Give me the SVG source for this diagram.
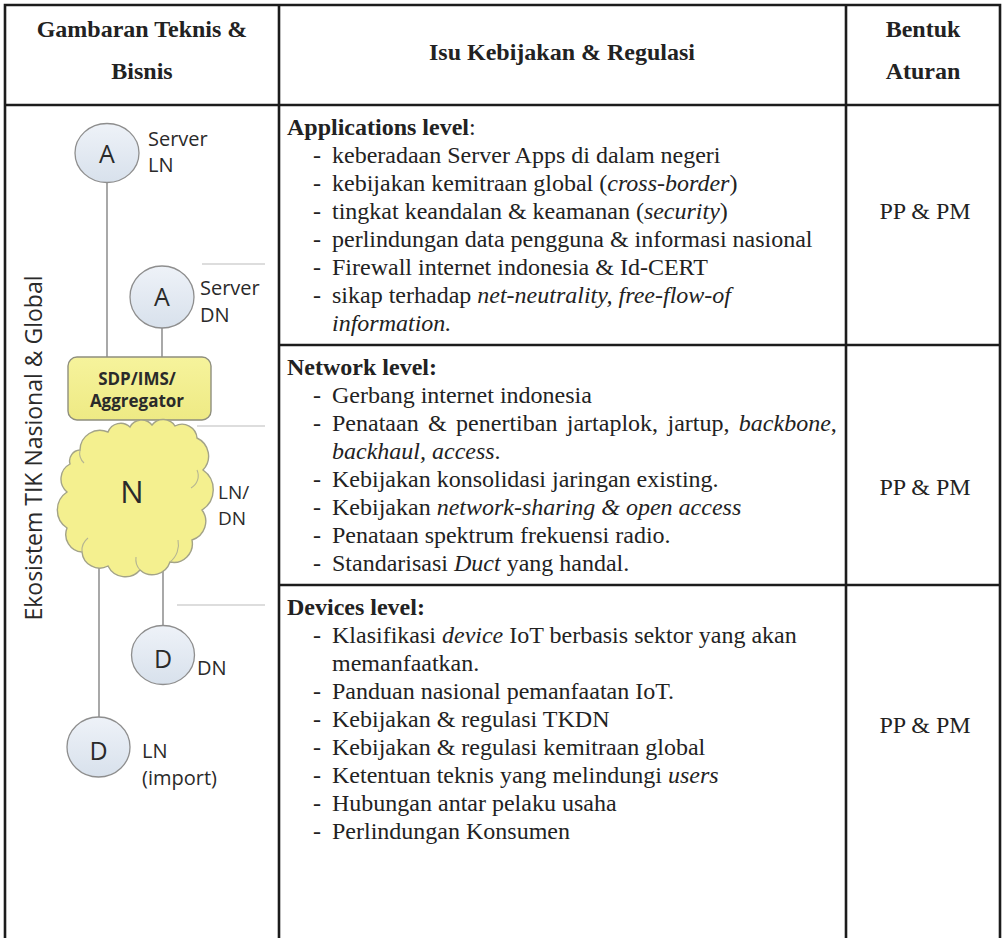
<svg xmlns="http://www.w3.org/2000/svg" width="1005" height="938" viewBox="0 0 1005 938">
  <defs>
    <linearGradient id="bubble" x1="0" y1="0" x2="0" y2="1">
      <stop offset="0" stop-color="#eef2f8"/>
      <stop offset="1" stop-color="#d8e1ec"/>
    </linearGradient>
    <linearGradient id="butter" x1="0" y1="0" x2="0" y2="1">
      <stop offset="0" stop-color="#f6f39c"/>
      <stop offset="1" stop-color="#eeea84"/>
    </linearGradient>
  </defs>
  <style>
    .grid { stroke: #1c1c1c; stroke-width: 2.6; fill: none; }
    .head { font-family: "Liberation Serif", "Times New Roman", serif; font-size: 24px; font-weight: bold; fill: #222; text-anchor: middle; }
    .body { font-family: "Liberation Serif", "Times New Roman", serif; font-size: 24px; fill: #222; }
    .b { font-weight: bold; }
    .i { font-style: italic; }
    .rule { font-family: "Liberation Serif", "Times New Roman", serif; font-size: 24px; fill: #222; text-anchor: middle; }
    .sans { font-family: "Open Sans", "DejaVu Sans", sans-serif; fill: #2a2a2a; }
    .lbl { font-size: 20px; }
    .glyph { font-size: 25px; text-anchor: middle; }
    .node { fill: url(#bubble); stroke: #8e8e8e; stroke-width: 1.3; }
    .wire { stroke: #7a7a7a; stroke-width: 1.3; fill: none; }
    .tier { stroke: #d2d2d2; stroke-width: 1.6; fill: none; }
  </style>

  <!-- table frame -->
  <g id="table">
    <path class="grid" d="M5 938 V5 H1000 V938"/>
    <line class="grid" x1="5" y1="105" x2="1000" y2="105"/>
    <line class="grid" x1="279" y1="5" x2="279" y2="938"/>
    <line class="grid" x1="846" y1="5" x2="846" y2="938"/>
    <line class="grid" x1="279" y1="345" x2="1000" y2="345"/>
    <line class="grid" x1="279" y1="585" x2="1000" y2="585"/>
  </g>

  <!-- header row -->
  <g id="header">
    <text class="head" x="142" y="37">Gambaran Teknis &amp;</text>
    <text class="head" x="142" y="79">Bisnis</text>
    <text class="head" x="562" y="60">Isu Kebijakan &amp; Regulasi</text>
    <text class="head" x="923" y="37">Bentuk</text>
    <text class="head" x="923" y="79">Aturan</text>
  </g>

  <!-- ecosystem sketch -->
  <text class="sans" font-size="23" text-anchor="middle" transform="translate(42 448) rotate(-90)">Ekosistem TIK Nasional &amp; Global</text>

  <g id="tier-lines">
    <line class="tier" x1="202" y1="264" x2="265" y2="264"/>
    <line class="tier" x1="197" y1="426" x2="265" y2="426"/>
    <line class="tier" x1="177" y1="605" x2="265" y2="605"/>
  </g>

  <g id="connectors">
    <line class="wire" x1="107" y1="183" x2="107" y2="357"/>
    <line class="wire" x1="162" y1="328" x2="162" y2="357"/>
    <line class="wire" x1="99" y1="568" x2="99" y2="717"/>
    <line class="wire" x1="163" y1="560" x2="163" y2="626"/>
  </g>

  <g id="server-ln">
    <ellipse class="node" cx="107" cy="153" rx="32" ry="29.5"/>
    <text class="sans glyph" x="107" y="163">A</text>
    <text class="sans lbl" x="148" y="146">Server</text>
    <text class="sans lbl" x="148" y="172">LN</text>
  </g>

  <g id="server-dn">
    <ellipse class="node" cx="162" cy="297" rx="32" ry="31"/>
    <text class="sans glyph" x="162" y="306">A</text>
    <text class="sans lbl" x="200" y="295">Server</text>
    <text class="sans lbl" x="200" y="322">DN</text>
  </g>

  <g id="aggregator">
    <rect x="68" y="357" width="143" height="63" rx="9" fill="url(#butter)" stroke="#8f8f7e" stroke-width="1.4"/>
    <text class="sans" font-size="17" font-weight="bold" text-anchor="middle" x="137" y="385">SDP/IMS/</text>
    <text class="sans" font-size="17" font-weight="bold" text-anchor="middle" x="137" y="407">Aggregator</text>
  </g>

  <g id="network-cloud">
    <path fill="#f4f08f" stroke="#a3a388" stroke-width="1.4" d="M80 450 A20 20 0 0 1 108 432 A13.5 13.5 0 0 1 130 427 A13.2 13.2 0 0 1 152 425 A14 14 0 0 1 175 426 A15 15 0 0 1 197 438 A20 20 0 0 1 203 470 A24 24 0 0 1 202 510 A19.4 19.4 0 0 1 192 540 A18.7 18.7 0 0 1 170 562 A18.6 18.6 0 0 1 140 570 A19.3 19.3 0 0 1 108 566 A17.7 17.7 0 0 1 82 552 A17.6 17.6 0 0 1 67 528 A21.6 21.6 0 0 1 67 492 A17 17 0 0 1 70 464 A11 11 0 0 1 80 450 Z"/>
    <g fill="none" stroke="#b5b592" stroke-width="1.1">
      <path d="M170 562 A22 22 0 0 0 178 540"/>
      <path d="M197 470 A14 14 0 0 1 191 488"/>
      <path d="M82 552 A16 16 0 0 1 88 538"/>
      <path d="M80 450 A14 14 0 0 0 84 463"/>
      <path d="M140 570 A16 16 0 0 1 136 557"/>
    </g>
    <text class="sans" font-size="31" text-anchor="middle" x="132" y="503">N</text>
    <text class="sans" font-size="19" x="218" y="499">LN/</text>
    <text class="sans" font-size="19" x="218" y="525">DN</text>
  </g>

  <g id="device-dn">
    <ellipse class="node" cx="163" cy="655" rx="31.5" ry="29.5"/>
    <text class="sans glyph" x="163" y="668">D</text>
    <text class="sans lbl" x="197" y="675">DN</text>
  </g>

  <g id="device-ln">
    <ellipse class="node" cx="98.5" cy="747" rx="31.5" ry="30"/>
    <text class="sans glyph" x="98.5" y="760">D</text>
    <text class="sans lbl" x="142" y="758">LN</text>
    <text class="sans lbl" x="142" y="785">(import)</text>
  </g>

  <!-- applications level -->
  <g id="apps">
    <text class="body" x="287" y="135"><tspan class="b">Applications level</tspan>:</text>
    <text class="body" x="313" y="163">-</text><text class="body" x="332" y="163">keberadaan Server Apps di dalam negeri</text>
    <text class="body" x="313" y="191">-</text><text class="body" x="332" y="191">kebijakan kemitraan global (<tspan class="i">cross-border</tspan>)</text>
    <text class="body" x="313" y="219">-</text><text class="body" x="332" y="219">tingkat keandalan &amp; keamanan (<tspan class="i">security</tspan>)</text>
    <text class="body" x="313" y="247">-</text><text class="body" x="332" y="247">perlindungan data pengguna &amp; informasi nasional</text>
    <text class="body" x="313" y="275">-</text><text class="body" x="332" y="275">Firewall internet indonesia &amp; Id-CERT</text>
    <text class="body" x="313" y="303">-</text><text class="body" x="332" y="303">sikap terhadap <tspan class="i">net-neutrality, free-flow-of</tspan></text>
    <text class="body i" x="332" y="331">information.</text>
    <text class="rule" x="925" y="219">PP &amp; PM</text>
  </g>

  <!-- network level -->
  <g id="network">
    <text class="body b" x="287" y="375">Network level:</text>
    <text class="body" x="313" y="403">-</text><text class="body" x="332" y="403">Gerbang internet indonesia</text>
    <text class="body" x="313" y="431">-</text><text class="body" x="332" y="431" word-spacing="3.4">Penataan &amp; penertiban jartaplok, jartup, <tspan class="i">backbone</tspan>,</text>
    <text class="body i" x="332" y="459">backhaul, access<tspan font-style="normal">.</tspan></text>
    <text class="body" x="313" y="487">-</text><text class="body" x="332" y="487">Kebijakan konsolidasi jaringan existing.</text>
    <text class="body" x="313" y="515">-</text><text class="body" x="332" y="515">Kebijakan <tspan class="i">network-sharing &amp; open access</tspan></text>
    <text class="body" x="313" y="543">-</text><text class="body" x="332" y="543">Penataan spektrum frekuensi radio.</text>
    <text class="body" x="313" y="571">-</text><text class="body" x="332" y="571">Standarisasi <tspan class="i">Duct</tspan> yang handal.</text>
    <text class="rule" x="925" y="495">PP &amp; PM</text>
  </g>

  <!-- devices level -->
  <g id="devices">
    <text class="body b" x="287" y="615">Devices level:</text>
    <text class="body" x="313" y="643">-</text><text class="body" x="332" y="643">Klasifikasi <tspan class="i">device</tspan> IoT berbasis sektor yang akan</text>
    <text class="body" x="332" y="671">memanfaatkan.</text>
    <text class="body" x="313" y="699">-</text><text class="body" x="332" y="699">Panduan nasional pemanfaatan IoT.</text>
    <text class="body" x="313" y="727">-</text><text class="body" x="332" y="727">Kebijakan &amp; regulasi TKDN</text>
    <text class="body" x="313" y="755">-</text><text class="body" x="332" y="755">Kebijakan &amp; regulasi kemitraan global</text>
    <text class="body" x="313" y="783">-</text><text class="body" x="332" y="783">Ketentuan teknis yang melindungi <tspan class="i">users</tspan></text>
    <text class="body" x="313" y="811">-</text><text class="body" x="332" y="811">Hubungan antar pelaku usaha</text>
    <text class="body" x="313" y="839">-</text><text class="body" x="332" y="839">Perlindungan Konsumen</text>
    <text class="rule" x="925" y="733">PP &amp; PM</text>
  </g>
</svg>
